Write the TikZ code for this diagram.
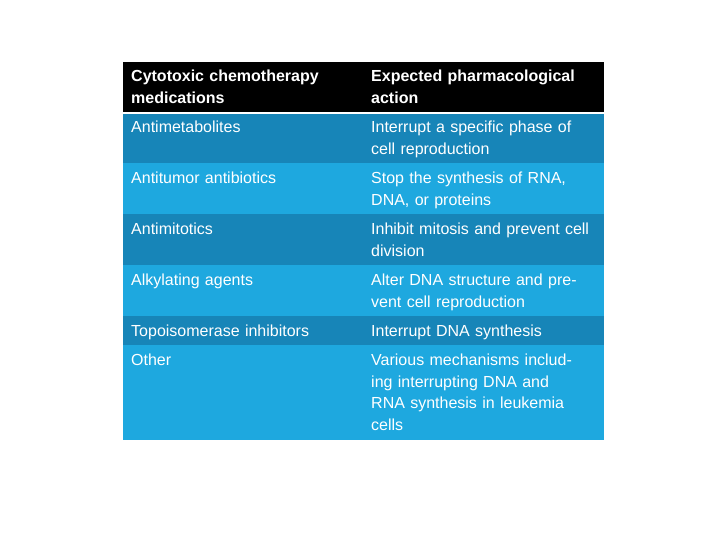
\documentclass[tikz,border=0pt]{standalone}
\usepackage{fontspec}
\setmainfont{Liberation Sans}
\definecolor{dk}{HTML}{1785B8}
\definecolor{lt}{HTML}{1EA8DF}
\begin{document}
\begin{tikzpicture}[x=1pt,y=-1pt,
  cell/.style={anchor=north west,inner sep=0pt,text=white,align=left,font=\fontsize{16}{21.5}\selectfont},
  c1/.style={cell,text width=220pt},
  c2/.style={cell,text width=225pt}]
\useasboundingbox[fill=white] (0,0) rectangle (720,540);
\fill[black] (123,62) rectangle (604,112);
\fill[dk] (123,114) rectangle (604,163);
\fill[lt] (123,163) rectangle (604,214);
\fill[dk] (123,214) rectangle (604,265);
\fill[lt] (123,265) rectangle (604,316);
\fill[dk] (123,316) rectangle (604,345);
\fill[lt] (123,345) rectangle (604,440);
\node[c1,font=\fontsize{16}{21.5}\selectfont\bfseries] (h1) at (131,70) {Cytotoxic chemotherapy medications};
\node[c2,font=\fontsize{16}{21.5}\selectfont\bfseries] (h2) at (371,70) {Expected pharmacological action};
\node[c1] (a1) at (131,121) {Antimetabolites};
\node[c2] (b1) at (371,121) {Interrupt a specific phase of cell reproduction};
\node[c1] (a2) at (131,172) {Antitumor antibiotics};
\node[c2] (b2) at (371,172) {Stop the synthesis of RNA, DNA, or proteins};
\node[c1] (a3) at (131,223) {Antimitotics};
\node[c2] (b3) at (371,223) {Inhibit mitosis and prevent cell division};
\node[c1] (a4) at (131,274) {Alkylating agents};
\node[c2] (b4) at (371,274) {Alter DNA structure and prevent cell reproduction};
\node[c1] (a5) at (131,325) {Topoisomerase inhibitors};
\node[c2] (b5) at (371,325) {Interrupt DNA synthesis};
\node[c1] (a6) at (131,354) {Other};
\node[c2,text width=215pt] (b6) at (371,354) {Various mechanisms including interrupting DNA and RNA synthesis in leukemia cells};
\end{tikzpicture}
\end{document}
